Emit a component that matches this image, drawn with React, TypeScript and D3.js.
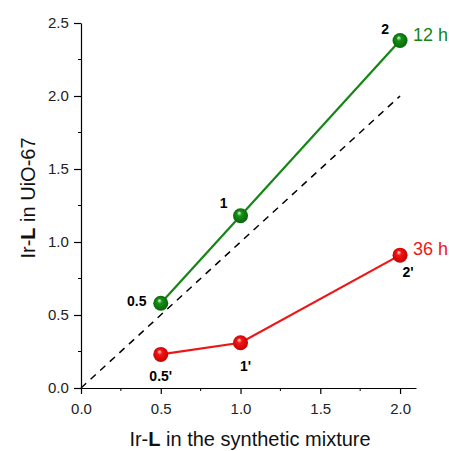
import React, { useEffect, useRef } from "react";
import * as d3 from "d3";

const mixture = [0.5, 1, 2];
const twelveH = [0.58, 1.18, 2.38];
const thirtySixH = [0.23, 0.31, 0.91];
const greenLabels = ["0.5", "1", "2"];
const redLabels = ["0.5'", "1'", "2'"];
const xTicks = [0, 0.5, 1, 1.5, 2];
const yTicks = [0, 0.5, 1, 1.5, 2, 2.5];

const W = 449;
const H = 451;
const font = "'Liberation Sans', Arial, sans-serif";

export default function App() {
  const ref = useRef<SVGSVGElement>(null);

  useEffect(() => {
    const svg = d3.select(ref.current);
    svg.selectAll("*").remove();

    const x = d3.scaleLinear().domain([0, 2.1]).range([81, 416]);
    const y = d3.scaleLinear().domain([0, 2.5]).range([388, 23]);

    const defs = svg.append("defs");
    const grad = (id, light, mid, dark) => {
      const g = defs
        .append("radialGradient")
        .attr("id", id)
        .attr("cx", "50%")
        .attr("cy", "50%")
        .attr("fx", "40%")
        .attr("fy", "30%")
        .attr("r", "55%");
      g.append("stop").attr("offset", "0%").attr("stop-color", light);
      g.append("stop").attr("offset", "30%").attr("stop-color", mid);
      g.append("stop").attr("offset", "100%").attr("stop-color", dark);
    };
    grad("gGreen", "#e8f5e8", "#129212", "#0b600b");
    grad("gRed", "#ffe4e4", "#f51414", "#c00000");

    // minor ticks
    const g = svg.append("g");
    d3.range(0.25, 2.1, 0.5).forEach((v) => {
      g.append("line")
        .attr("x1", x(v)).attr("x2", x(v))
        .attr("y1", y(0)).attr("y2", y(0) + 3)
        .attr("stroke", "#000");
    });
    d3.range(0.25, 2.5, 0.5).forEach((v) => {
      g.append("line")
        .attr("x1", x(0) - 3).attr("x2", x(0))
        .attr("y1", y(v)).attr("y2", y(v))
        .attr("stroke", "#000");
    });

    const xAxis = svg
      .append("g")
      .attr("transform", `translate(0,${y(0)})`)
      .call(
        d3.axisBottom(x).tickValues(xTicks).tickFormat(d3.format(".1f")).tickSize(6).tickSizeOuter(0)
      );
    const yAxis = svg
      .append("g")
      .attr("transform", `translate(${x(0)},0)`)
      .call(
        d3.axisLeft(y).tickValues(yTicks).tickFormat(d3.format(".1f")).tickSize(7).tickSizeOuter(0)
      );
    [xAxis, yAxis].forEach((a) => {
      a.selectAll("path, line").attr("stroke", "#000").attr("stroke-width", 1.2);
      a.selectAll("text").attr("font-family", font).attr("font-size", 15).attr("fill", "#222");
    });
    xAxis.selectAll("text").attr("dy", "1.15em");
    yAxis.selectAll("text").attr("dx", "-0.15em");

    // diagonal reference
    svg.append("line")
      .attr("x1", x(0)).attr("y1", y(0))
      .attr("x2", x(2)).attr("y2", y(2))
      .attr("stroke", "#000")
      .attr("stroke-width", 1.5)
      .attr("stroke-dasharray", "7,6");

    const line = d3
      .line<number>()
      .x((d, i) => x(mixture[i]))
      .y((d) => y(d));

    const series = [
      { vals: twelveH, color: "#158515", fill: "url(#gGreen)", labels: greenLabels, name: "12 h",
        off: [[-24, 3], [-17, -8], [-15, -7]] },
      { vals: thirtySixH, color: "#f01515", fill: "url(#gRed)", labels: redLabels, name: "36 h",
        off: [[0, 27], [5, 28], [8, 22]] },
    ];

    series.forEach((s) => {
      svg.append("path")
        .attr("d", line(s.vals))
        .attr("fill", "none")
        .attr("stroke", s.color)
        .attr("stroke-width", 2.2);
      s.vals.forEach((v, i) => {
        svg.append("circle")
          .attr("cx", x(mixture[i]))
          .attr("cy", y(v))
          .attr("r", 7.5)
          .attr("fill", s.fill);
        svg.append("text")
          .attr("x", x(mixture[i]) + s.off[i][0])
          .attr("y", y(v) + s.off[i][1])
          .attr("text-anchor", "middle")
          .attr("font-family", font)
          .attr("font-weight", "bold")
          .attr("font-size", 14)
          .text(s.labels[i]);
      });
      svg.append("text")
        .attr("x", x(2) + 13)
        .attr("y", y(s.vals[2]) + 0)
        .attr("font-family", font)
        .attr("font-size", 18)
        .attr("fill", s.color)
        .text(s.name);
    });

    // axis titles
    const xt = svg.append("text")
      .attr("x", 250)
      .attr("y", 446)
      .attr("text-anchor", "middle")
      .attr("font-family", font)
      .attr("font-size", 20)
      .attr("fill", "#111");
    xt.append("tspan").text("Ir-");
    xt.append("tspan").attr("font-weight", "bold").text("L");
    xt.append("tspan").text(" in the synthetic mixture");

    const yt = svg.append("text")
      .attr("transform", `translate(35,198) rotate(-90)`)
      .attr("text-anchor", "middle")
      .attr("font-family", font)
      .attr("font-size", 20)
      .attr("fill", "#111");
    yt.append("tspan").text("Ir-");
    yt.append("tspan").attr("font-weight", "bold").text("L");
    yt.append("tspan").text(" in UiO-67");
  }, []);

  return (
    <svg
      ref={ref}
      width={W}
      height={H}
      style={{ position: "absolute", left: 0, top: 0, background: "#fff" }}
    />
  );
}
